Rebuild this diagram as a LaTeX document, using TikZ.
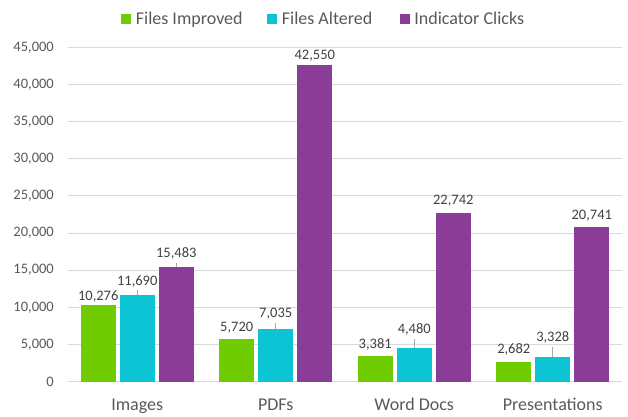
\documentclass[tikz,border=0pt]{standalone}
\usepackage{fontspec}
\setmainfont{Carlito}
\usetikzlibrary{positioning}
\definecolor{improved}{HTML}{6FCC00}
\definecolor{altered}{HTML}{0CC4D4}
\definecolor{clicks}{HTML}{8A3D96}
\definecolor{gridgrey}{HTML}{D9D9D9}
\definecolor{txtgrey}{HTML}{595959}
\definecolor{lblgrey}{HTML}{404040}

\begin{document}
\begin{tikzpicture}[x=1pt,y=1pt,
		gridline/.style={gridgrey,line width=0.9pt},
		ticklab/.style={anchor=east,inner sep=0pt,text=txtgrey,font=\fontsize{14.5}{16}\selectfont},
		catlab/.style={anchor=base,inner sep=0pt,text=txtgrey,font=\fontsize{18}{20}\selectfont},
		vallab/.style={inner xsep=0pt,inner ysep=5pt,text height=9.2pt,text depth=0pt,text=lblgrey,font=\fontsize{14.5}{16}\selectfont},
		swatch/.style={minimum size=10pt,inner sep=0pt},
		keylab/.style={inner sep=0pt,text height=11.6pt,text depth=0pt,text=txtgrey,font=\fontsize{18}{20}\selectfont},
		leader/.style={gray!70,line width=0.6pt}]
		\useasboundingbox (0,0) rectangle (628,416);
		% grid and value axis (values in thousands)
		\foreach \k/\t in {0/0,1/{5,000},2/{10,000},3/{15,000},4/{20,000},5/{25,000},6/{30,000},7/{35,000},8/{40,000},9/{45,000}} {
			\draw[gridline] (68,{34.5+\k*37.135}) -- (622,{34.5+\k*37.135});
			\node[ticklab] (tick\k) at (54,{34.5+\k*37.135}) {\t};
		}
		% bars
		\foreach \i/\v/\t/\l in {0/10.276/{10,276}/9.5,1/5.720/{5,720}/12.3,2/3.381/{3,381}/12.4,3/2.682/{2,682}/12.3} {
			\fill[improved] ({137.25+138.5*\i-56.5},34.5) rectangle ({137.25+138.5*\i-21.5},{34.5+\v*7.427});
			\coordinate (imp\i) at ({137.25+138.5*\i-39},{34.5+\v*7.427});
			\node[vallab] (impl\i) at ([yshift=\l]imp\i) {\t};
		}
		\foreach \i/\v/\t/\l in {0/11.690/{11,690}/14,1/7.035/{7,035}/16.5,2/4.480/{4,480}/19,3/3.328/{3,328}/20} {
			\fill[altered] ({137.25+138.5*\i-17.5},34.5) rectangle ({137.25+138.5*\i+17.5},{34.5+\v*7.427});
			\coordinate (alt\i) at ({137.25+138.5*\i},{34.5+\v*7.427});
			\node[vallab] (altl\i) at ([yshift=\l]alt\i) {\t};
			\draw[leader] (altl\i.south) -- (alt\i);
		}
		\foreach \i/\v/\t/\l in {0/15.483/{15,483}/13.8,1/42.550/{42,550}/10.5,2/22.742/{22,742}/12.6,3/20.741/{20,741}/12.5} {
			\fill[clicks] ({137.25+138.5*\i+21.5},34.5) rectangle ({137.25+138.5*\i+56.5},{34.5+\v*7.427});
			\coordinate (clk\i) at ({137.25+138.5*\i+39},{34.5+\v*7.427});
			\node[vallab] (clkl\i) at ([yshift=\l]clk\i) {\t};
		}
		\draw[leader] (clkl0.south) -- (clk0);
		% categories
		\foreach \i/\t in {0/Images,1/PDFs,2/Word Docs,3/Presentations}
			\node[catlab] (cat\i) at ({137.25+138.5*\i},6) {\t};
		% legend
		\node[swatch,fill=improved] (k1) at (126,397) {};
		\node[keylab,right=4.5pt of k1] (t1) {Files Improved};
		\node[swatch,fill=altered] (k2) at (272,397) {};
		\node[keylab,right=4.5pt of k2] (t2) {Files Altered};
		\node[swatch,fill=clicks] (k3) at (404.5,397) {};
		\node[keylab,right=4.5pt of k3] (t3) {Indicator Clicks};
	\end{tikzpicture}
\end{document}
